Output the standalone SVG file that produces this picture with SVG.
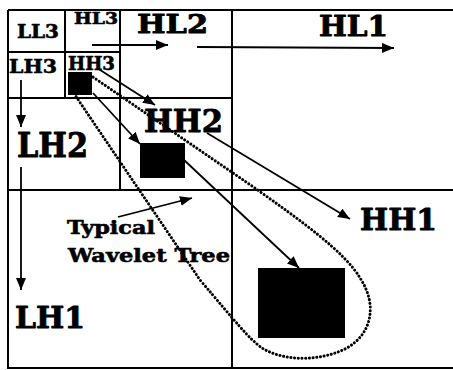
<svg xmlns="http://www.w3.org/2000/svg" width="453" height="370" viewBox="0 0 453 370">
<style>
.grid{stroke:#000;stroke-width:2;fill:none}
.lbl{font-family:"DejaVu Serif","Liberation Serif",serif;font-weight:bold;fill:#000;stroke:#000;stroke-width:0.9;stroke-linejoin:round}
.sm{stroke-width:0.6}
.arr{stroke:#000;stroke-width:1.8;fill:none;marker-end:url(#ah)}
.dot{stroke:#000;stroke-width:3;fill:none;stroke-dasharray:0.1 3.6;stroke-linecap:round}
.blk{fill:#000}
</style>
<defs>
<marker id="ah" viewBox="0 0 12 10" refX="12" refY="5" markerWidth="12" markerHeight="10" orient="auto" markerUnits="userSpaceOnUse">
<path d="M0,0 L12,5 L0,10 Z" fill="#000"/>
</marker>
</defs>
<rect width="453" height="370" fill="#fff"/>
<g id="grid" class="grid">
<path d="M8,10 H453 M8,10 V368 H453"/>
<path d="M232,10 V368 M8,190 H453"/>
<path d="M120,10 V190 M8,98 H232"/>
<path d="M65,10 V98 M8,52 H120"/>
</g>
<g id="LL3"><text class="lbl sm" x="17" y="38" font-size="18" textLength="42" lengthAdjust="spacingAndGlyphs">LL3</text></g>
<g id="HL3"><text class="lbl sm" x="74" y="24" font-size="16" textLength="44" lengthAdjust="spacingAndGlyphs">HL3</text></g>
<g id="LH3"><text class="lbl sm" x="9" y="73" font-size="19" textLength="48" lengthAdjust="spacingAndGlyphs">LH3</text></g>
<g id="HH3"><text class="lbl sm" x="68" y="70" font-size="18" textLength="47" lengthAdjust="spacingAndGlyphs">HH3</text><rect class="blk" x="68" y="72" width="24" height="23"/></g>
<g id="HL2"><text class="lbl" x="137" y="33" font-size="26" textLength="71" lengthAdjust="spacingAndGlyphs">HL2</text></g>
<g id="HL1"><text class="lbl" x="319" y="36" font-size="28" textLength="69" lengthAdjust="spacingAndGlyphs">HL1</text></g>
<g id="LH2"><text class="lbl" x="17" y="157" font-size="33" textLength="71" lengthAdjust="spacingAndGlyphs">LH2</text></g>
<g id="HH2"><text class="lbl" x="144" y="132" font-size="32" textLength="79" lengthAdjust="spacingAndGlyphs">HH2</text><rect class="blk" x="140" y="143" width="45" height="35"/></g>
<g id="HH1"><text class="lbl" x="360" y="230" font-size="30" textLength="77" lengthAdjust="spacingAndGlyphs">HH1</text><rect class="blk" x="258" y="268" width="87" height="70"/></g>
<g id="LH1"><text class="lbl" x="15" y="328" font-size="30" textLength="70" lengthAdjust="spacingAndGlyphs">LH1</text></g>
<g id="tree-label"><text class="lbl sm" x="67" y="234" font-size="19" textLength="88" lengthAdjust="spacingAndGlyphs">Typical</text><text class="lbl sm" x="68" y="262" font-size="19" textLength="162" lengthAdjust="spacingAndGlyphs">Wavelet Tree</text></g>
<g id="connectors">
<path class="dot" d="M90,75 L252,186 C300,220 345,252 360,278 C378,305 372,335 345,349 C320,361 285,362 262,348 C248,338 236,322 200,280 L77,98 C68,84 76,70 90,75 Z"/>
<line class="arr" x1="92" y1="45" x2="168" y2="45"/>
<line class="arr" x1="197" y1="47" x2="394" y2="48"/>
<line class="arr" x1="21" y1="80" x2="21" y2="127"/>
<line class="arr" x1="21" y1="167" x2="21" y2="290"/>
<line class="arr" x1="97" y1="68" x2="155" y2="105"/>
<line class="arr" x1="93" y1="93" x2="140" y2="144"/>
<line class="arr" x1="207" y1="133" x2="350" y2="219"/>
<line class="arr" x1="184" y1="160" x2="299" y2="268"/>
<line class="arr" x1="118" y1="217" x2="192" y2="198"/>
</g>
</svg>
